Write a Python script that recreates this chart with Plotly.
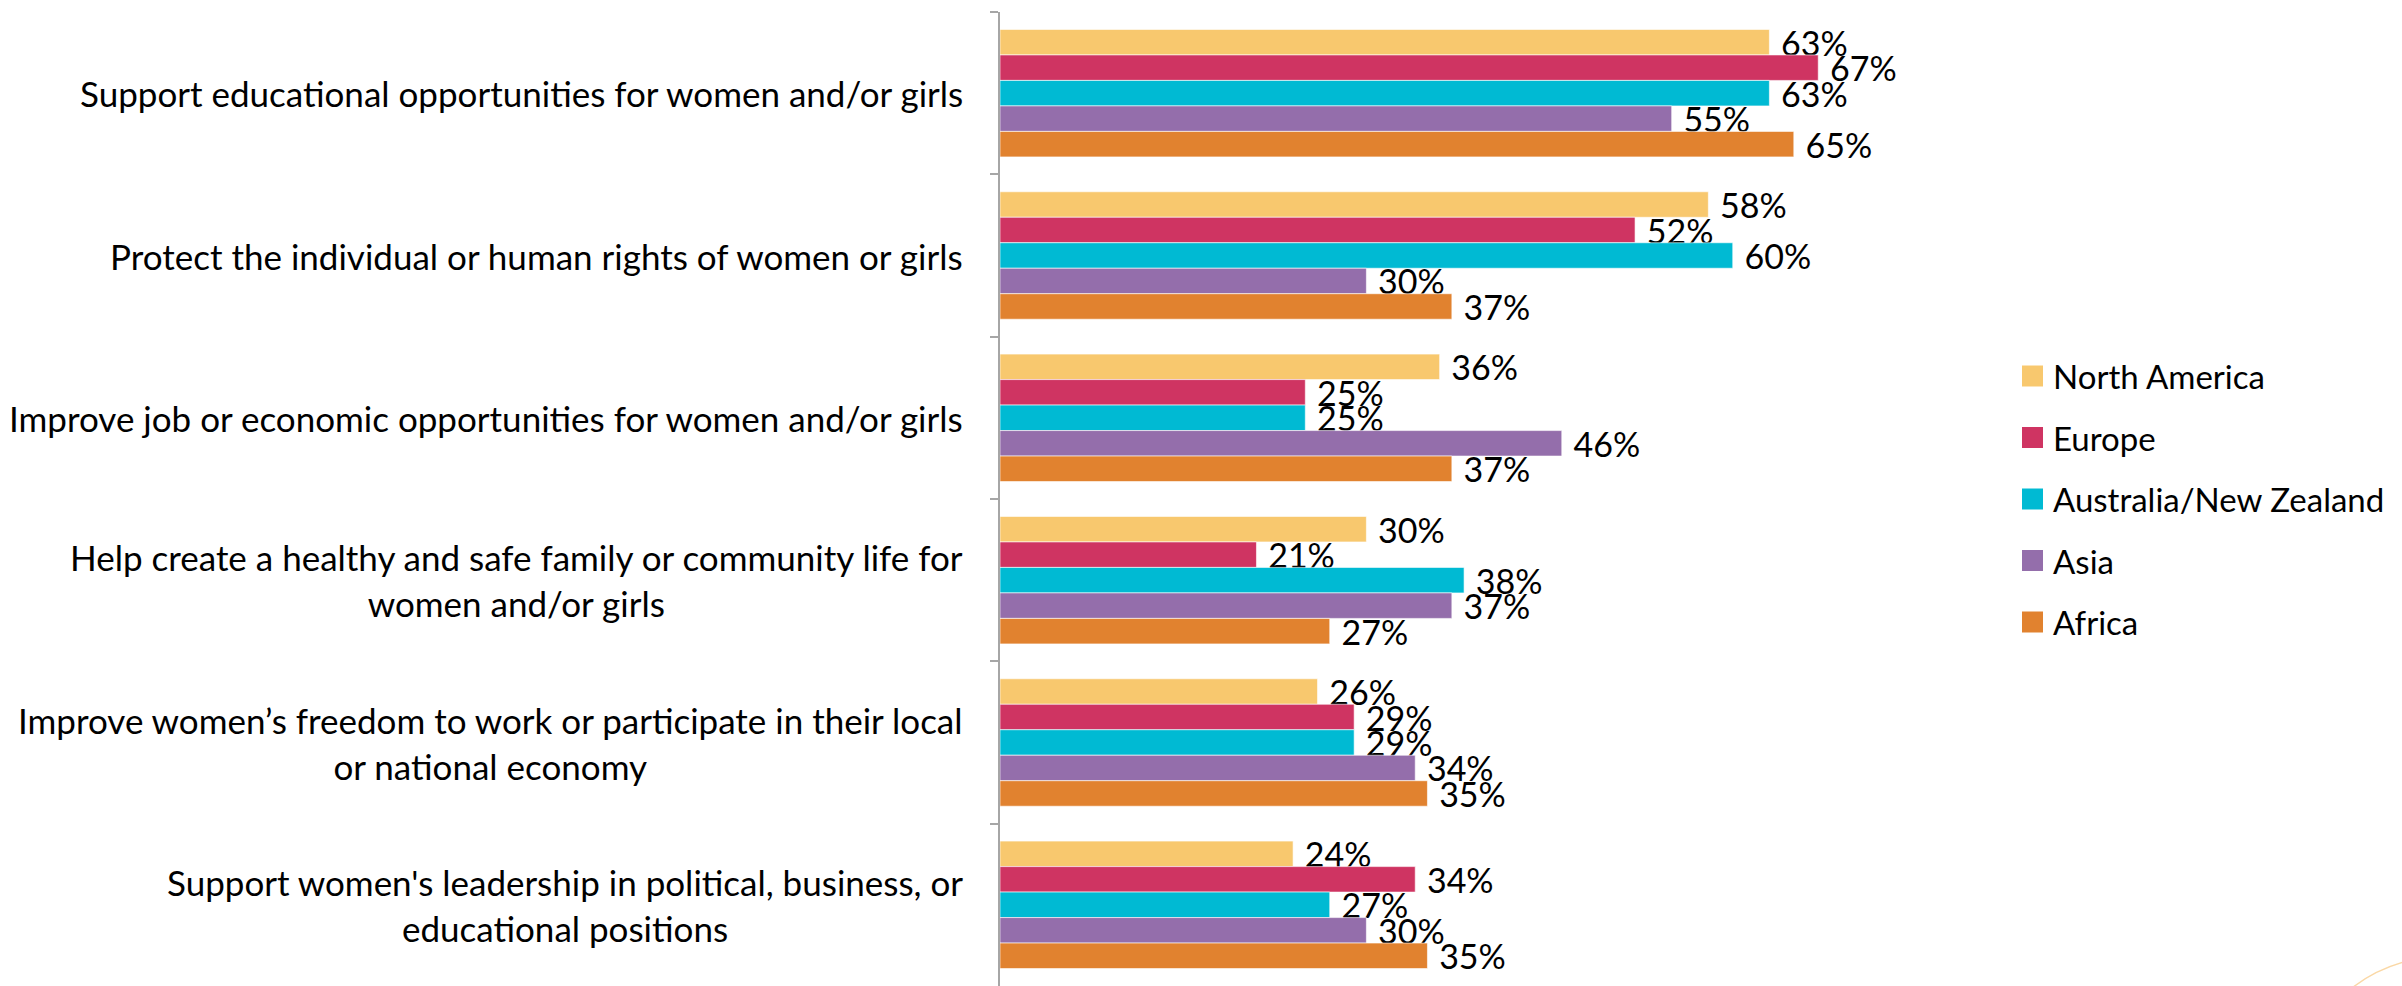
import plotly.graph_objects as go

# Survey categories (top to bottom) and regional shares in percent
categories = [
    "Support educational opportunities for women and/or girls",
    "Protect the individual or human rights of women or girls",
    "Improve job or economic opportunities for women and/or girls",
    "Help create a healthy and safe family or community life for<br>women and/or girls",
    "Improve women\u2019s freedom to work or participate in their local<br>or national economy",
    "Support women's leadership in political, business, or<br>educational positions",
]
regions = ["North America", "Europe", "Australia/New Zealand", "Asia", "Africa"]
north_america = [63, 58, 36, 30, 26, 24]
europe = [67, 52, 25, 21, 29, 34]
australia_nz = [63, 60, 25, 38, 29, 27]
asia = [55, 30, 46, 37, 34, 30]
africa = [65, 37, 37, 27, 35, 35]
series = [north_america, europe, australia_nz, asia, africa]
colors = ["#F8C86E", "#CF3462", "#00BAD3", "#946EAB", "#E1822F"]

W, H = 2402, 986
M_L, M_R, M_T, M_B = 1000, 425, 12, 0
PW, PH = W - M_L - M_R, H - M_T - M_B
FONT = "Lato"


def px_x(px):
    return (px - M_L) / PW


def px_y(py):
    return (H - M_B - py) / PH


fig = go.Figure()
for name, vals, col in zip(regions, series, colors):
    fig.add_trace(go.Bar(
        y=categories, x=vals, name=name, orientation="h",
        marker=dict(color=col, line=dict(color="rgba(255,255,255,0.6)", width=1)),
        texttemplate="\u00a0%{x}%", textposition="outside",
        constraintext="none", cliponaxis=False,
        textfont=dict(family=FONT, size=34, color="#000000"),
        showlegend=False, hoverinfo="skip",
    ))

annotations = []
# Category labels, centred lines, right-aligned next to the axis
for cat in categories:
    annotations.append(dict(
        x=0, xref="paper", y=cat, yref="y", xanchor="right", yanchor="middle",
        xshift=-35, text=cat, showarrow=False, align="center",
        font=dict(family=FONT, size=35, color="#000000"),
    ))

shapes = []
# Legend: coloured squares with region names
for i, (name, col) in enumerate(zip(regions, colors)):
    cy = 376 + i * 61.5
    shapes.append(dict(
        type="rect", xref="paper", yref="paper",
        x0=px_x(2022), x1=px_x(2043), y0=px_y(cy + 10.5), y1=px_y(cy - 10.5),
        fillcolor=col, line=dict(width=0),
    ))
    annotations.append(dict(
        x=px_x(2051), y=px_y(cy), xref="paper", yref="paper",
        xanchor="left", yanchor="middle", text=name, showarrow=False,
        font=dict(family=FONT, size=33, color="#000000"),
    ))

# Decorative arc in the lower right corner
shapes.append(dict(
    type="path", xref="paper", yref="paper",
    path=f"M {px_x(2352)},{px_y(988)} Q {px_x(2375)},{px_y(970)} {px_x(2404)},{px_y(962)}",
    line=dict(color="#FAD8A6", width=1.5),
))

fig.update_layout(
    width=W, height=H,
    margin=dict(l=M_L, r=M_R, t=M_T, b=M_B, pad=0),
    paper_bgcolor="white", plot_bgcolor="white",
    barmode="group", bargap=0.215, bargroupgap=0,
    xaxis=dict(range=[0, 80], visible=False, fixedrange=True),
    yaxis=dict(
        type="category", categoryorder="array", categoryarray=categories,
        range=[5.5, -0.5], showline=True, linecolor="#A6A6A6", linewidth=1.5,
        ticks="outside", tickson="boundaries", ticklen=8, tickcolor="#A6A6A6",
        tickwidth=1.5, showticklabels=False, showgrid=False, zeroline=False,
    ),
    annotations=annotations, shapes=shapes,
    font=dict(family=FONT),
)

fig.write_html("out.html")
